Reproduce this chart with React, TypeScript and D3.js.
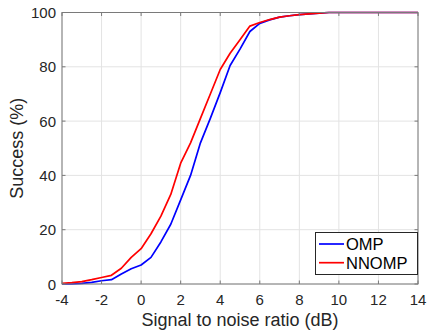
import React from "react";
import * as d3 from "d3";

const snr = [-4, -3.5, -3, -2.5, -2, -1.5, -1, -0.5, 0, 0.5, 1, 1.5, 2, 2.5, 3, 3.5, 4, 4.5, 5, 5.5, 6, 6.5, 7, 7.5, 8, 8.5, 9, 9.5, 10, 10.5, 11, 11.5, 12, 12.5, 13, 13.5, 14];
const omp = [0, 0, 0.2, 0.6, 1.2, 1.6, 3.7, 5.6, 7, 9.8, 15.5, 22, 31, 40, 52, 61, 70.5, 80.5, 86.5, 93, 96, 97.3, 98.3, 98.8, 99.2, 99.5, 99.8, 100, 100, 100, 100, 100, 100, 100, 100, 100, 100];
const nnomp = [0.2, 0.5, 0.9, 1.6, 2.4, 3.2, 5.8, 9.8, 13, 18.5, 25, 33, 44.5, 52, 61, 70, 79, 85, 90, 95, 96.3, 97.4, 98.3, 98.8, 99.2, 99.5, 99.8, 100, 100, 100, 100, 100, 100, 100, 100, 100, 100];
const xTicks = [-4, -2, 0, 2, 4, 6, 8, 10, 12, 14];
const yTicks = [0, 20, 40, 60, 80, 100];
const seriesNames = ["OMP", "NNOMP"];
const seriesColors = ["#0000ff", "#ff0000"];

export default function App() {
  const W = 429, H = 330;
  const L = 62, R = 418, T = 12.5, B = 284;
  const x = d3.scaleLinear().domain([-4, 14]).range([L, R]);
  const y = d3.scaleLinear().domain([0, 100]).range([B, T]);
  const line = d3.line<number>().x((_, i) => x(snr[i])).y((d) => y(d));
  const series = [omp, nnomp];
  const font = "'Liberation Sans', Arial, Helvetica, sans-serif";
  const axisColor = "#262626";
  return (
    <svg width={W} height={H} style={{ position: "absolute", left: 0, top: 0, background: "#fff" }}>
      <rect x={0} y={0} width={W} height={H} fill="#fff" />
      {xTicks.map((t) => (
        <line key={"gx" + t} x1={x(t)} x2={x(t)} y1={T} y2={B} stroke="#e3e3e3" strokeWidth={1} />
      ))}
      {yTicks.map((t) => (
        <line key={"gy" + t} x1={L} x2={R} y1={y(t)} y2={y(t)} stroke="#e3e3e3" strokeWidth={1} />
      ))}
      {series.map((s, i) => (
        <path key={i} d={line(s) || ""} fill="none" stroke={seriesColors[i]} strokeWidth={1.7} strokeLinejoin="round" />
      ))}
      <rect x={L} y={T} width={R - L} height={B - T} fill="none" stroke="#7a7a7a" strokeWidth={1} />
      {xTicks.map((t) => (
        <g key={"tx" + t}>
          <line x1={x(t)} x2={x(t)} y1={B} y2={B - 3.5} stroke="#7a7a7a" />
          <line x1={x(t)} x2={x(t)} y1={T} y2={T + 3.5} stroke="#7a7a7a" />
          <text x={x(t)} y={305} textAnchor="middle" fontFamily={font} fontSize={15} fill={axisColor}>{t}</text>
        </g>
      ))}
      {yTicks.map((t) => (
        <g key={"ty" + t}>
          <line x1={L} x2={L + 3.5} y1={y(t)} y2={y(t)} stroke="#7a7a7a" />
          <line x1={R} x2={R - 3.5} y1={y(t)} y2={y(t)} stroke="#7a7a7a" />
          <text x={56} y={y(t) + 5.5} textAnchor="end" fontFamily={font} fontSize={15} fill={axisColor}>{t}</text>
        </g>
      ))}
      <text x={(L + R) / 2} y={326} textAnchor="middle" fontFamily={font} fontSize={18} fill={axisColor}>Signal to noise ratio (dB)</text>
      <text transform={`translate(23,${(T + B) / 2}) rotate(-90)`} textAnchor="middle" fontFamily={font} fontSize={18} fill={axisColor}>Success (%)</text>
      <g>
        <rect x={315.5} y={232.5} width={102} height={42} fill="#fff" stroke="#262626" strokeWidth={1} />
        {seriesNames.map((n, i) => (
          <g key={n}>
            <line x1={319} x2={344} y1={244 + i * 18.7} y2={244 + i * 18.7} stroke={seriesColors[i]} strokeWidth={1.7} />
            <text x={346} y={244 + i * 18.7 + 6} fontFamily={font} fontSize={16.5} fill="#000">{n}</text>
          </g>
        ))}
      </g>
    </svg>
  );
}
